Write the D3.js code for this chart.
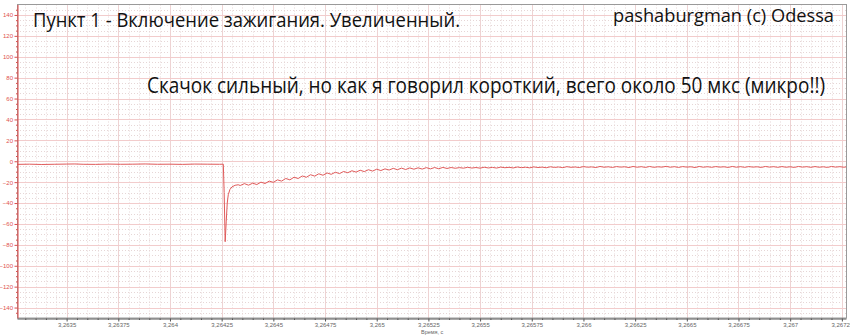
<!DOCTYPE html>
<html lang="ru">
<head>
<meta charset="utf-8">
<title>Пункт 1 - Включение зажигания. Увеличенный.</title>
<script src="https://cdn.jsdelivr.net/npm/d3@7"></script>
<style>
  body { margin: 0; background: #fff; }
  svg { display: block; }
</style>
</head>
<body>
<svg id="chart" width="850" height="336"></svg>
<script>
// recording time base, s; the offsets in timeUs are microseconds from it
var timeBase = 3.2635;

var timeUs = [
  -240, -180, -120, -60, 0, 40, 80, 140, 200, 260, 320, 380, 440, 500, 560, 620, 680, 740, 758,
  762, 767, 772, 777, 782, 790, 800, 815, 830,
  840, 860, 880, 900, 920, 940, 960, 980, 1000, 1020, 1040, 1060, 1080, 1100, 1120, 1140, 1160, 1180,
  1200, 1220, 1240, 1260, 1280, 1300, 1320, 1340, 1360, 1380, 1400, 1420, 1440, 1460, 1480, 1500,
  1520, 1540, 1560, 1580, 1600, 1620, 1640, 1660, 1680, 1700, 1720, 1740, 1760, 1780, 1800, 1820,
  1840, 1860, 1880, 1900, 1920, 1940, 1960, 1980, 2000, 2020, 2040, 2060, 2080, 2100, 2120, 2140,
  2160, 2180, 2200, 2220, 2240, 2260, 2280, 2300, 2320, 2340, 2360, 2380, 2400, 2420, 2440, 2460,
  2480, 2500, 2520, 2540, 2560, 2580, 2600, 2620, 2640, 2660, 2680, 2700, 2720, 2740, 2760, 2780,
  2800, 2820, 2840, 2860, 2880, 2900, 2920, 2940, 2960, 2980, 3000, 3020, 3040, 3060, 3080, 3100,
  3120, 3140, 3160, 3180, 3200, 3220, 3240, 3260, 3280, 3300, 3320, 3340, 3360, 3380, 3400, 3420,
  3440, 3460, 3480, 3500, 3520, 3540, 3560, 3580, 3600, 3620, 3640, 3660, 3680, 3700, 3720, 3740,
  3760, 3770
];

var signal = [
  -3.0, -2.8, -3.1, -2.9, -2.7, -2.6, -2.9, -3.0, -2.7, -2.9, -2.8, -2.6, -2.9, -2.8, -3.0, -2.7, -2.8, -2.9, -2.8,
  -30, -77, -58, -40, -32, -27, -24.5, -23, -22.5,
  -23.2, -21.4, -22.9, -21.0, -22.3, -20.0, -21.3, -19.0, -20.2, -17.8, -19.0, -16.5, -17.8, -15.3, -16.5, -14.1, -15.3, -12.9,
  -14.2, -12.0, -13.4, -11.2, -12.5, -10.5, -11.8, -9.8, -11.0, -9.1, -10.4, -8.6, -9.9, -8.1, -9.4, -7.6,
  -8.9, -7.3, -8.4, -6.8, -8.1, -6.6, -7.9, -6.4, -7.6, -6.3, -7.5, -6.1, -7.3, -6.0, -7.2, -5.9,
  -6.9, -6.0, -6.7, -6.1, -6.6, -5.8, -6.5, -6.0, -6.6, -5.7, -6.4, -5.9, -6.5, -5.6, -6.2, -5.8,
  -6.4, -5.5, -6.1, -5.7, -6.3, -5.4, -6.0, -5.6, -6.2, -5.3, -5.9, -5.5, -6.1, -5.2, -5.8, -5.5,
  -6.0, -5.1, -5.7, -5.4, -6.0, -5.0, -5.7, -5.3, -5.9, -5.1, -5.6, -5.3, -6.0, -5.0, -5.7, -5.2,
  -5.9, -5.0, -5.8, -5.3, -5.6, -4.9, -5.7, -5.2, -5.9, -5.1, -5.6, -5.3, -6.0, -5.0, -5.7, -5.2,
  -5.8, -5.1, -5.6, -5.3, -5.9, -5.0, -5.7, -5.2, -5.8, -5.1, -5.6, -5.3, -5.9, -5.0, -5.6, -5.2,
  -5.8, -5.1, -5.7, -5.3, -5.9, -5.0, -5.6, -5.2, -5.8, -5.1, -5.7, -5.3, -5.9, -5.0, -5.6, -5.2,
  -5.7, -5.4
];

var yTicks = [-140, -120, -100, -80, -60, -40, -20, 0, 20, 40, 60, 80, 100, 120, 140];
var xTicks = [3.2635, 3.26375, 3.264, 3.26425, 3.2645, 3.26475, 3.265, 3.26525,
              3.2655, 3.26575, 3.266, 3.26625, 3.2665, 3.26675, 3.267, 3.26725];
var xLabels = ["3,2635", "3,26375", "3,264", "3,26425", "3,2645", "3,26475", "3,265", "3,26525",
               "3,2655", "3,26575", "3,266", "3,26625", "3,2665", "3,26675", "3,267", "3,26725"];

var titleText = "Пункт 1 - Включение зажигания. Увеличенный.";
var authorText = "pashaburgman (c) Odessa";
var noteText = "Скачок сильный, но как я говорил короткий, всего около 50 мкс (микро!!)";
var xAxisTitle = "Время, с";

(function () {
  var svg = d3.select("#chart");
  // plot box (window.top is read-only, so keep these local)
  var pL = 17, pR = 846, pT = 4.5, pB = 318;
  var tickFont = "'Liberation Sans', Arial, sans-serif";

  var x = d3.scaleLinear().domain([3.26326, 3.26727]).range([pL, pR]);
  var y = d3.scaleLinear().domain([-150, 150]).range([pB, pT]);

  var points = timeUs.map(function (u, i) {
    return { t: timeBase + u * 1e-6, v: signal[i] };
  });

  // minor grid positions (5 steps per major)
  var xMinor = d3.range(3.26330, 3.26727, 0.00005).filter(function (t) {
    return xTicks.every(function (m) { return Math.abs(m - t) > 1e-7; });
  });
  var yMinor = d3.range(-145, 150, 5).filter(function (v) { return v % 20 !== 0; });

  var px = function (v) { return Math.round(v) + 0.5; };

  var grid = svg.append("g");
  grid.selectAll(".vmin").data(xMinor).enter().append("line")
    .attr("x1", function (d) { return px(x(d)); })
    .attr("x2", function (d) { return px(x(d)); })
    .attr("y1", pT).attr("y2", pB)
    .attr("stroke", "#e6d6d6").attr("stroke-dasharray", "1,2");
  grid.selectAll(".hmin").data(yMinor).enter().append("line")
    .attr("y1", function (d) { return px(y(d)); })
    .attr("y2", function (d) { return px(y(d)); })
    .attr("x1", pL).attr("x2", pR)
    .attr("stroke", "#e6d6d6").attr("stroke-dasharray", "1,2");
  grid.selectAll(".vmaj").data(xTicks).enter().append("line")
    .attr("x1", function (d) { return px(x(d)); })
    .attr("x2", function (d) { return px(x(d)); })
    .attr("y1", pT).attr("y2", pB)
    .attr("stroke", "#eed3d3");
  grid.selectAll(".hmaj").data(yTicks).enter().append("line")
    .attr("y1", function (d) { return px(y(d)); })
    .attr("y2", function (d) { return px(y(d)); })
    .attr("x1", pL).attr("x2", pR)
    .attr("stroke", "#f2cccc");

  // frame
  svg.append("rect")
    .attr("x", pL + 0.5).attr("y", pT)
    .attr("width", pR - pL).attr("height", pB - pT)
    .attr("fill", "none").attr("stroke", "#9a9a9a");

  // signal
  svg.append("path")
    .datum(points)
    .attr("fill", "none")
    .attr("stroke", "#e05a5a")
    .attr("stroke-width", 1)
    .attr("d", d3.line().x(function (d) { return x(d.t); }).y(function (d) { return y(d.v); }));

  // y axis
  var yAxis = svg.append("g").attr("transform", "translate(" + (pL + 0.5) + ",0)")
    .call(d3.axisLeft(y).tickValues(yTicks).tickSize(3).tickPadding(1.5).tickSizeOuter(0));
  yAxis.select(".domain").attr("stroke", "#e04848");
  yAxis.selectAll(".tick line").attr("stroke", "#e04848");
  yAxis.selectAll(".tick text")
    .attr("fill", "#e05050")
    .style("font-family", tickFont)
    .style("font-size", "6px");
  svg.append("g").attr("transform", "translate(" + (pL + 0.5) + ",0)")
    .call(d3.axisLeft(y).tickValues(yMinor).tickSize(1.5).tickFormat("").tickSizeOuter(0))
    .call(function (g) {
      g.select(".domain").remove();
      g.selectAll("line").attr("stroke", "#e04848");
    });

  // x axis
  var xAxis = svg.append("g").attr("transform", "translate(0," + (pB + 0.5) + ")")
    .call(d3.axisBottom(x).tickValues(xTicks).tickSize(3).tickPadding(1).tickSizeOuter(0)
      .tickFormat(function (d, i) { return xLabels[i]; }));
  xAxis.select(".domain").attr("stroke", "#555");
  xAxis.selectAll(".tick line").attr("stroke", "#555");
  xAxis.selectAll(".tick text")
    .attr("fill", "#666")
    .style("font-family", tickFont)
    .style("font-size", "6px");
  svg.append("g").attr("transform", "translate(0," + (pB + 0.5) + ")")
    .call(d3.axisBottom(x).tickValues(xMinor).tickSize(1.5).tickFormat("").tickSizeOuter(0))
    .call(function (g) {
      g.select(".domain").remove();
      g.selectAll("line").attr("stroke", "#555");
    });

  svg.append("text")
    .attr("x", 421).attr("y", 334)
    .attr("fill", "#666")
    .style("font-family", tickFont)
    .style("font-size", "5.5px")
    .text(xAxisTitle);

  // captions
  var captionFont = "'Open Sans', 'Noto Sans', sans-serif";
  svg.append("text")
    .attr("x", 33).attr("y", 27)
    .attr("textLength", 427).attr("lengthAdjust", "spacingAndGlyphs")
    .attr("fill", "#111")
    .style("font-family", captionFont).style("font-size", "20px")
    .text(titleText);
  svg.append("text")
    .attr("x", 613).attr("y", 22)
    .attr("textLength", 221).attr("lengthAdjust", "spacingAndGlyphs")
    .attr("fill", "#111")
    .style("font-family", captionFont).style("font-size", "19px")
    .text(authorText);
  svg.append("text")
    .attr("x", 147).attr("y", 93)
    .attr("textLength", 678).attr("lengthAdjust", "spacingAndGlyphs")
    .attr("fill", "#111")
    .style("font-family", captionFont).style("font-size", "21px")
    .text(noteText);
})();
</script>
</body>
</html>
